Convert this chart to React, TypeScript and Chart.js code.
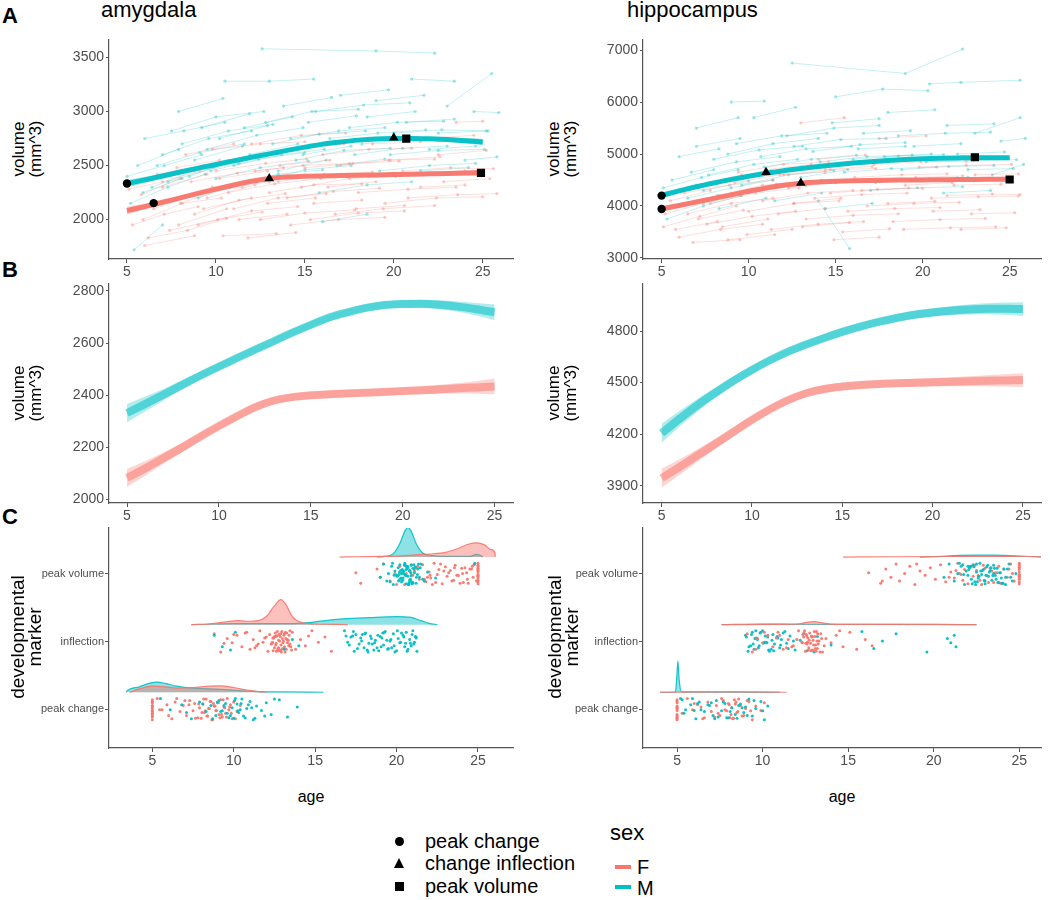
import React, { useEffect, useRef } from "react";
import { Chart, registerables } from "chart.js";
Chart.register(...registerables);

// ---------- colours ----------
const F_COLOR = "248,118,109";
const M_COLOR = "0,191,196";
const AXIS = "#555555";
const TICK = "#4d4d4d";
const FONT = "'Liberation Sans', Arial, Helvetica, sans-serif";

// ---------- tick labels ----------
const ageTicks = [5, 10, 15, 20, 25];
const amyTicksA = [2000, 2500, 3000, 3500];
const hipTicksA = [3000, 4000, 5000, 6000, 7000];
const amyTicksB = [2000, 2200, 2400, 2600, 2800];
const hipTicksB = [3900, 4200, 4500, 4800];
const markerCats = [1, 2, 3];
const markerLabels = ["peak change", "inflection", "peak volume"];

// ---------- fitted trajectories ----------
const fitAges = [5, 6, 7, 8, 9, 10, 11, 12, 13, 14, 15, 16, 17, 18, 19, 20, 21, 22, 23, 24, 25];
const amyFitF = [2083, 2120, 2160, 2200, 2242, 2282, 2320, 2355, 2380, 2393, 2400, 2404, 2407, 2410, 2413, 2416, 2419, 2423, 2427, 2430, 2434];
const amyFitM = [2332, 2367, 2403, 2440, 2476, 2510, 2543, 2576, 2608, 2640, 2670, 2698, 2718, 2735, 2746, 2750, 2751, 2747, 2740, 2730, 2718];
const hipFitF = [3945, 4010, 4078, 4146, 4215, 4283, 4345, 4398, 4438, 4463, 4477, 4486, 4492, 4496, 4499, 4502, 4505, 4508, 4511, 4513, 4515];
const hipFitM = [4206, 4290, 4370, 4443, 4512, 4574, 4630, 4680, 4722, 4760, 4795, 4826, 4853, 4876, 4895, 4908, 4918, 4925, 4930, 4930, 4928];
// bootstrap spread (half-width, mm^3)
const amySpread = [35, 28, 22, 18, 15, 14, 14, 14, 14, 14, 14, 14, 14, 14, 14, 14, 15, 17, 20, 24, 30];
const hipSpread = [55, 45, 36, 30, 26, 24, 22, 22, 22, 22, 22, 22, 22, 22, 23, 24, 26, 29, 32, 36, 40];

// ---------- developmental markers on fits ----------
const markerShapes = ["circle", "triangle", "rect"];
const amyMarkAgeF = [6.5, 13.0, 24.9];
const amyMarkVolF = [2152, 2380, 2432];
const amyMarkAgeM = [5.0, 20.0, 20.7];
const amyMarkVolM = [2334, 2757, 2748];
const hipMarkAgeF = [5.0, 13.0, 25.0];
const hipMarkVolF = [3942, 4443, 4510];
const hipMarkAgeM = [5.0, 11.0, 23.0];
const hipMarkVolM = [4200, 4649, 4938];

// ---------- individual trajectories [age, vol, age, vol, ...] ----------
const amyTrajF = [
  [5.3, 1950, 7.1, 2050, 9.0, 2120], [5.8, 2230, 8.0, 2380], [6.2, 1830, 8.4, 1900, 10.6, 2010],
  [6.5, 2100, 9.2, 2250, 11.5, 2300], [7.0, 2300, 9.5, 2420], [7.4, 1900, 10.1, 2000, 12.6, 2070],
  [8.0, 2150, 10.5, 2290, 13.0, 2350], [8.3, 2600, 11.0, 2700], [9.0, 1950, 12.0, 2080, 14.6, 2120],
  [9.5, 2200, 12.2, 2320], [10.0, 2450, 12.8, 2520, 15.1, 2560], [10.4, 1850, 13.4, 1870],
  [11.0, 2100, 13.5, 2200, 16.2, 2240], [11.6, 2350, 14.0, 2400], [12.0, 2700, 14.8, 2780, 17.3, 2800],
  [12.5, 2000, 15.0, 2060, 17.8, 2090], [13.0, 2250, 15.5, 2320, 18.2, 2330], [13.6, 2500, 16.4, 2550],
  [14.2, 1950, 16.9, 2000, 19.5, 2020], [14.8, 2300, 17.5, 2380, 20.1, 2400], [15.5, 2150, 18.2, 2180],
  [16.0, 2600, 18.6, 2650, 21.0, 2660], [16.7, 2050, 19.4, 2100, 22.3, 2130], [17.4, 2400, 20.0, 2430],
  [18.0, 2250, 20.8, 2280, 23.5, 2300], [18.8, 2700, 21.5, 2720], [19.5, 2150, 22.4, 2200, 25.0, 2210],
  [20.5, 2450, 23.2, 2480, 25.6, 2470], [21.5, 2300, 24.0, 2320], [22.5, 2600, 25.2, 2640],
  [6.0, 1760, 8.8, 1850], [7.8, 2480, 10.2, 2550], [23.5, 2900, 25.0, 2910], [11.8, 1830, 14.5, 1880],
  [8.8, 2050, 11.3, 2180, 13.9, 2240], [15.0, 2480, 17.7, 2520, 20.3, 2540],
  [5.1, 2280, 7.0, 2350, 9.1, 2450], [5.9, 2000, 8.1, 2150, 10.3, 2200], [6.7, 2420, 9.3, 2500],
  [7.2, 2180, 9.8, 2300, 12.3, 2360], [7.9, 1950, 10.6, 2100], [8.6, 2350, 11.2, 2430, 13.8, 2480],
  [9.3, 2100, 12.0, 2200], [9.8, 2650, 12.5, 2700, 15.0, 2720], [10.7, 2250, 13.3, 2330, 15.9, 2380],
  [11.3, 2000, 14.0, 2050], [12.2, 2450, 14.9, 2500, 17.5, 2520], [12.9, 2150, 15.6, 2200],
  [13.5, 2350, 16.1, 2420, 18.8, 2440], [14.5, 2650, 17.2, 2700], [15.3, 2000, 18.0, 2060, 20.6, 2080],
  [16.3, 2300, 19.0, 2350], [17.0, 2500, 19.7, 2550, 22.3, 2560], [17.9, 2100, 20.6, 2130],
  [18.6, 2400, 21.3, 2430, 24.0, 2450], [19.8, 2550, 22.6, 2580], [20.8, 2200, 23.6, 2230, 25.8, 2240],
  [21.8, 2750, 24.5, 2780], [22.8, 2350, 25.4, 2380], [10.2, 2380, 12.9, 2450], [14.0, 2200, 16.6, 2260, 19.2, 2290],
];
const amyTrajM = [
  [5.2, 2150, 7.3, 2300, 9.4, 2420], [5.6, 2500, 7.9, 2650], [6.0, 2750, 8.2, 2820, 10.5, 2900],
  [6.4, 2300, 8.8, 2450, 11.3, 2520], [7.0, 2600, 9.6, 2750, 12.0, 2820], [7.9, 3000, 10.4, 3120],
  [8.5, 2400, 11.0, 2550, 13.5, 2610], [9.0, 2200, 11.8, 2350], [9.5, 2650, 12.3, 2780, 14.9, 2850],
  [10.5, 3280, 13.0, 3280, 15.5, 3300], [11.0, 2500, 13.7, 2600, 16.1, 2650], [11.6, 2850, 14.3, 2950],
  [12.3, 2350, 15.0, 2460, 17.6, 2500], [12.6, 3580, 19.0, 3560, 22.3, 3540], [13.2, 2700, 15.8, 2790, 18.4, 2820],
  [13.8, 3050, 16.5, 3130], [14.5, 2550, 17.2, 2640, 19.8, 2660], [15.2, 2900, 17.9, 2960],
  [15.8, 2250, 18.5, 2320, 21.0, 2350], [16.4, 2750, 19.1, 2800, 21.8, 2830], [17.0, 3150, 19.7, 3200],
  [17.8, 2600, 20.5, 2660, 23.0, 2680], [18.5, 2950, 21.2, 3000], [19.2, 2450, 22.0, 2500, 24.6, 2520],
  [20.0, 2800, 22.7, 2830, 25.3, 2820], [21.0, 3300, 23.4, 3280], [22.0, 2650, 24.6, 2680],
  [23.0, 3050, 25.5, 3350], [24.0, 2550, 25.8, 2580], [5.4, 1720, 7.0, 1950], [16.0, 1980, 18.5, 2050],
  [7.5, 2820, 10.0, 2950, 12.7, 3000], [10.0, 2380, 12.5, 2480, 15.2, 2540],
  [5.0, 2400, 7.1, 2500, 9.2, 2600], [5.9, 2250, 8.1, 2380], [6.7, 2500, 9.1, 2620, 11.6, 2700],
  [7.3, 2350, 9.9, 2480], [8.1, 2700, 10.7, 2820, 13.2, 2880], [8.8, 2550, 11.5, 2680],
  [9.7, 2450, 12.4, 2560, 15.0, 2620], [10.2, 2750, 12.9, 2870], [10.8, 2300, 13.5, 2420, 16.0, 2460],
  [11.9, 2600, 14.6, 2700], [12.8, 2900, 15.4, 3000, 18.0, 3020], [13.5, 2450, 16.2, 2550],
  [14.2, 2750, 16.9, 2820, 19.5, 2850], [14.9, 2600, 17.6, 2680], [15.6, 3000, 18.3, 3060, 20.9, 3080],
  [16.8, 2500, 19.5, 2560], [17.5, 2850, 20.2, 2900, 22.8, 2910], [18.2, 2700, 20.9, 2740],
  [19.0, 3100, 21.7, 3150], [19.8, 2600, 22.5, 2640, 25.1, 2650], [20.7, 2900, 23.4, 2930],
  [21.5, 2450, 24.2, 2480], [22.5, 2800, 25.2, 2820], [24.5, 3000, 25.9, 2990], [9.2, 2850, 11.9, 2980],
];
const hipTrajF = [
  [5.1, 3600, 7.2, 3800, 9.3, 4000], [5.5, 4100, 7.8, 4300], [6.0, 3400, 8.4, 3550, 10.8, 3650],
  [6.5, 3850, 9.0, 4050, 11.4, 4150], [7.0, 4400, 9.6, 4600], [7.6, 3650, 10.2, 3800, 12.7, 3900],
  [8.2, 4200, 10.8, 4400, 13.3, 4480], [8.8, 3350, 11.5, 3450], [9.4, 4650, 12.0, 4800, 14.6, 4850],
  [10.0, 3900, 12.6, 4050, 15.2, 4100], [10.6, 4300, 13.3, 4450], [11.3, 3550, 14.0, 3650, 16.6, 3700],
  [12.0, 4600, 14.7, 4700, 17.3, 4720], [12.6, 4050, 15.3, 4150], [13.3, 3750, 16.0, 3820, 18.6, 3850],
  [14.0, 4900, 16.7, 4980], [14.7, 4250, 17.4, 4320, 20.0, 4340], [15.4, 3500, 18.1, 3560],
  [16.1, 4550, 18.8, 4600, 21.4, 4620], [16.8, 4000, 19.5, 4050, 22.1, 4070], [17.5, 5300, 20.2, 5350],
  [18.3, 3700, 21.0, 3740, 23.6, 3760], [19.0, 4400, 21.7, 4450], [19.8, 4750, 22.5, 4780, 25.1, 4800],
  [20.6, 3900, 23.3, 3930], [21.4, 4200, 24.0, 4230, 25.6, 4220], [22.2, 3550, 24.8, 3580],
  [23.0, 4600, 25.5, 4620], [6.8, 3300, 9.5, 3350], [13.0, 5600, 15.5, 5700],
  [9.0, 4250, 11.6, 4420, 14.2, 4500], [15.0, 4450, 17.6, 4500, 20.4, 4520],
  [5.2, 3850, 7.4, 4050, 9.5, 4200], [5.8, 3550, 8.2, 3700], [6.3, 4250, 8.9, 4400, 11.4, 4500],
  [7.1, 3750, 9.7, 3920], [7.8, 4050, 10.4, 4250, 12.9, 4350], [8.5, 3600, 11.1, 3750],
  [9.2, 4450, 11.8, 4600, 14.4, 4650], [9.9, 3450, 12.5, 3550], [10.8, 4100, 13.4, 4250, 16.0, 4300],
  [11.7, 3850, 14.4, 3950], [12.3, 4350, 15.0, 4450, 17.6, 4480], [13.1, 3600, 15.8, 3680],
  [13.8, 4150, 16.5, 4220, 19.1, 4250], [14.4, 4700, 17.1, 4760], [15.7, 3900, 18.4, 3950, 21.0, 3970],
  [16.5, 4300, 19.2, 4350], [17.2, 4800, 19.9, 4850, 22.5, 4860], [18.0, 4050, 20.7, 4090],
  [18.9, 3550, 21.6, 3580, 24.2, 3600], [19.6, 4550, 22.3, 4580], [20.5, 4150, 23.2, 4180, 25.5, 4190],
  [21.8, 4400, 24.5, 4420], [22.8, 3850, 25.3, 3870], [11.0, 4700, 13.6, 4800], [14.9, 3350, 17.5, 3400],
];
const hipTrajM = [
  [5.3, 3750, 7.4, 4000, 9.6, 4200], [5.6, 4500, 8.0, 4700], [6.0, 4950, 8.3, 5100],
  [6.5, 4150, 9.0, 4350, 11.4, 4500], [7.0, 5500, 9.4, 5700], [7.7, 4600, 10.3, 4800, 12.8, 4900],
  [8.3, 3950, 11.0, 4150], [8.8, 5000, 11.4, 5200, 14.0, 5300], [9.0, 6000, 10.9, 6020],
  [9.6, 4400, 12.3, 4600, 14.9, 4680], [10.3, 5700, 12.7, 5900], [10.9, 4750, 13.6, 4900, 16.2, 4980],
  [11.5, 4100, 14.2, 4250], [12.2, 5350, 14.9, 5500, 17.5, 5550], [12.5, 6750, 19.0, 6550, 22.3, 7020],
  [13.0, 4550, 15.7, 4700], [13.7, 5050, 16.4, 5180, 19.0, 5220], [14.4, 3950, 17.1, 4050],
  [15.0, 6100, 17.7, 6250, 20.3, 6220], [15.2, 4800, 17.9, 4900], [14.0, 4100, 15.8, 3180],
  [16.6, 5400, 19.3, 5450], [17.3, 4450, 20.0, 4520, 22.6, 4550], [18.0, 5800, 20.7, 5850],
  [18.8, 4700, 21.5, 4760, 24.1, 4780], [19.5, 5150, 22.2, 5200], [20.4, 6350, 22.2, 6380, 25.6, 6420],
  [21.2, 4250, 23.9, 4300], [22.0, 5000, 24.7, 5040], [23.0, 5400, 25.6, 5700], [24.0, 4600, 25.8, 4800],
  [6.2, 4300, 8.7, 4480, 11.2, 4620], [16.0, 4900, 18.6, 4960, 21.2, 4990],
  [5.1, 4350, 7.3, 4550, 9.4, 4700], [5.9, 4000, 8.3, 4200], [6.7, 4650, 9.3, 4850, 11.8, 4950],
  [7.4, 4300, 10.0, 4480], [8.0, 4900, 10.6, 5080, 13.1, 5150], [8.7, 4500, 11.3, 4680],
  [9.3, 5200, 11.9, 5350, 14.5, 5400], [10.0, 4250, 12.6, 4400], [10.7, 4950, 13.3, 5100, 15.9, 5150],
  [11.8, 4650, 14.5, 4780], [12.6, 5150, 15.3, 5280, 17.9, 5300], [13.3, 4400, 16.0, 4500],
  [14.1, 4850, 16.8, 4950, 19.4, 4980], [14.8, 5600, 17.5, 5680], [15.5, 4650, 18.2, 4720, 20.8, 4750],
  [16.3, 5100, 19.0, 5150], [17.0, 4300, 19.7, 4350, 22.3, 4370], [17.8, 4950, 20.5, 5000],
  [18.6, 5350, 21.3, 5400, 23.9, 5420], [19.3, 4500, 22.0, 4540], [20.2, 4850, 22.9, 4880, 25.4, 4890],
  [21.4, 5550, 24.1, 5580], [22.6, 4700, 25.2, 4720], [24.5, 5250, 25.9, 5300], [7.0, 5150, 9.5, 5300],
];

// ---------- raincloud: estimated marker ages ----------
const amyPeakVolF = [17.5, 17.8, 18.8, 19.0, 19.2, 19.6, 19.9, 20.2, 20.5, 20.8, 21.0, 21.2, 21.4, 21.6, 21.8, 22.0, 22.1, 22.3, 22.5, 22.6, 22.8, 23.0, 23.1, 23.3, 23.5, 23.6, 23.8, 24.0, 24.1, 24.3, 24.4, 24.6, 24.7, 24.8, 24.9, 20.6, 21.3, 22.2, 22.9, 23.7, 24.2, 21.7, 20.9, 25, 25, 25, 25, 25, 25, 25, 25, 25, 25, 25, 25, 25, 25,
  22.4, 23.2, 23.9, 24.5, 21.9, 22.7, 23.4, 24.05, 24.65, 20.0, 21.1, 22.05, 23.55, 24.35, 24.75];
const amyPeakVolM = [19.0, 19.2, 19.4, 19.5, 19.7, 19.8, 19.9, 20.0, 20.1, 20.2, 20.2, 20.3, 20.4, 20.4, 20.5, 20.5, 20.6, 20.6, 20.7, 20.7, 20.8, 20.8, 20.9, 20.9, 21.0, 21.0, 21.1, 21.2, 21.3, 21.4, 21.5, 21.7, 20.3, 20.6, 20.75, 20.45, 20.55, 20.65, 20.85, 21.05, 19.6, 21.9, 22.4, 24.8, 20.15, 20.35, 20.95, 21.15,
  20.05, 20.25, 20.38, 20.48, 20.58, 20.68, 20.78, 20.88, 20.98, 21.08, 21.22, 21.35, 20.12, 20.42, 20.62, 20.72, 20.82, 19.85, 21.45, 21.6, 20.52, 20.92, 20.18, 20.28, 19.75, 21.28];
const amyInflF = [8.8, 9.2, 9.6, 9.9, 10.2, 10.5, 10.8, 11.0, 11.2, 11.4, 11.6, 11.8, 12.0, 12.1, 12.2, 12.3, 12.4, 12.5, 12.55, 12.6, 12.65, 12.7, 12.75, 12.8, 12.85, 12.9, 12.95, 13.0, 13.05, 13.1, 13.15, 13.2, 13.3, 13.4, 13.5, 13.6, 13.8, 14.1, 14.4, 14.8, 15.2, 15.6, 16.0, 10.0, 11.5, 12.45, 12.75, 13.25, 12.35, 12.6, 12.9, 13.35,
  12.42, 12.52, 12.58, 12.68, 12.72, 12.82, 12.88, 12.92, 12.98, 13.02, 13.08, 13.12, 13.18, 13.22, 13.28, 13.38, 13.45, 12.38, 12.48, 12.62, 12.78, 13.45, 11.9, 11.3, 10.7, 9.4, 14.6, 13.55];
const amyInflM = [8.8, 9.3, 10.1, 13.1, 13.6, 14.0, 16.8, 17.0, 17.2, 17.4, 17.5, 17.7, 17.8, 18.0, 18.1, 18.3, 18.4, 18.6, 18.7, 18.9, 19.0, 19.2, 19.3, 19.5, 19.6, 19.8, 19.9, 20.1, 20.2, 20.4, 20.5, 20.6, 20.7, 20.8, 20.9, 21.0, 21.1, 21.2, 21.25, 17.9, 18.5, 19.1, 19.7, 20.3, 20.85, 17.3, 18.2, 19.4, 20.0, 21.15,
  17.1, 17.35, 17.6, 17.85, 18.05, 18.25, 18.45, 18.65, 18.85, 19.05, 19.25, 19.45, 19.65, 19.85, 20.05, 20.25, 20.45, 20.65, 20.95, 21.05, 21.2, 18.8, 19.15, 20.55, 16.9, 9.8];
const amyPeakChgF = [5, 5, 5, 5, 5, 5, 5, 5, 5, 5, 5, 5, 5.3, 5.6, 5.9, 6.2, 6.4, 6.7, 6.9, 7.1, 7.3, 7.5, 7.6, 7.8, 7.9, 8.0, 8.1, 8.2, 8.3, 8.4, 8.5, 8.6, 8.7, 8.8, 8.9, 9.0, 9.1, 9.2, 9.3, 9.4, 9.5, 9.6, 9.7, 9.8, 9.9, 10.0, 10.2, 10.4, 6.0, 7.0, 8.25, 8.75, 9.15, 9.45,
  7.65, 7.85, 8.05, 8.15, 8.35, 8.45, 8.55, 8.65, 8.85, 8.95, 9.05, 9.25, 9.35, 9.55, 9.75, 9.85, 6.5, 5.45, 7.25, 10.1, 5, 5, 5];
const amyPeakChgM = [5.5, 6.1, 6.8, 7.4, 7.9, 8.3, 8.6, 8.9, 9.1, 9.3, 9.5, 9.7, 9.9, 10.0, 10.2, 10.3, 10.5, 10.6, 10.8, 11.0, 11.2, 11.4, 11.7, 12.0, 12.3, 12.8, 13.3, 13.9, 9.6, 10.1, 10.4, 10.9,
  8.7, 9.0, 9.2, 9.4, 9.8, 10.05, 10.25, 10.45, 10.7, 11.1, 11.3, 8.1, 7.1, 12.5, 11.9];
const hipPeakVolF = [16.2, 16.9, 17.2, 17.5, 17.8, 18.0, 18.3, 18.6, 18.9, 19.2, 19.5, 19.8, 20.1, 20.4, 20.7, 21.0, 21.2, 21.4, 21.6, 21.8, 22.0, 22.1, 22.3, 22.5, 22.7, 22.9, 23.1, 23.3, 23.5, 23.7, 23.9, 24.1, 24.3, 24.5, 24.7, 21.5, 22.2, 22.8, 23.4, 25, 25, 25, 25, 25, 25, 25, 25, 25, 25, 25, 25, 25,
  21.3, 21.7, 22.4, 22.6, 23.0, 23.2, 23.6, 24.0, 24.4, 20.9, 19.0, 17.0, 24.6, 23.8];
const hipPeakVolM = [20.6, 20.9, 21.2, 21.4, 21.6, 21.8, 21.9, 22.0, 22.1, 22.2, 22.3, 22.4, 22.5, 22.6, 22.7, 22.8, 22.9, 23.0, 23.1, 23.2, 23.3, 23.4, 23.5, 23.6, 23.7, 23.8, 23.9, 24.0, 24.1, 24.2, 24.4, 24.6, 24.8, 22.15, 22.45, 22.75, 23.05, 23.35, 23.65, 21.7, 22.55, 23.25, 23.95,
  21.5, 21.75, 22.05, 22.25, 22.35, 22.65, 22.85, 22.95, 23.15, 23.45, 23.55, 23.75, 23.85, 24.05, 24.3, 24.5, 22.5, 23.0, 23.5, 22.0, 24.2];
const hipInflF = [9.1, 9.4, 9.7, 10.0, 10.3, 10.6, 10.9, 11.2, 11.5, 11.8, 12.1, 12.3, 12.4, 12.5, 12.55, 12.6, 12.65, 12.7, 12.75, 12.8, 12.85, 12.9, 12.95, 13.0, 13.05, 13.1, 13.15, 13.2, 13.3, 13.4, 13.5, 13.7, 14.0, 14.3, 14.7, 15.1, 15.5, 16.0, 16.4, 12.45, 12.62, 12.88, 13.12, 12.35, 13.25, 10.8, 11.4,
  12.42, 12.52, 12.58, 12.68, 12.72, 12.82, 12.92, 12.98, 13.02, 13.08, 13.18, 13.22, 13.35, 13.45, 12.32, 11.0, 11.7, 10.1, 9.6, 12.0, 13.6, 14.5];
const hipInflM = [9.0, 9.2, 9.4, 9.5, 9.7, 9.8, 10.0, 10.1, 10.3, 10.4, 10.6, 10.7, 10.9, 11.0, 11.2, 11.4, 11.6, 11.9, 12.2, 12.6, 13.2, 14.0, 15.8, 16.5, 17.0, 17.8, 19.6, 20.8, 21.0, 21.2, 21.3, 9.9, 10.5, 11.1, 9.3, 9.6, 10.2,
  9.05, 9.15, 9.35, 9.45, 9.65, 9.75, 9.85, 10.05, 10.15, 10.35, 10.55, 10.65, 10.85, 11.05, 11.3, 11.5, 11.8, 12.4, 13.0, 9.55, 10.25];
const hipPeakChgF = [5, 5, 5, 5, 5, 5, 5, 5, 5, 5, 5, 5.3, 5.6, 5.9, 6.2, 6.5, 6.8, 7.0, 7.3, 7.5, 7.7, 7.9, 8.0, 8.1, 8.2, 8.3, 8.4, 8.5, 8.6, 8.8, 9.0, 9.2, 9.4, 9.6, 9.9, 10.1, 8.15, 8.35, 7.2, 6.4,
  7.4, 7.6, 7.8, 8.05, 8.25, 8.45, 8.55, 8.7, 8.9, 9.1, 9.3, 6.0, 6.6, 5, 5];
const hipPeakChgM = [5.2, 5.5, 5.8, 6.1, 6.3, 6.6, 6.9, 7.1, 7.3, 7.6, 7.8, 8.0, 8.2, 8.5, 8.7, 8.9, 9.2, 9.4, 9.6, 9.9, 10.1, 10.3, 6.0, 7.0, 8.4, 5.3, 7.4, 9.0,
  5.4, 5.9, 6.4, 6.8, 7.2, 7.7, 8.1, 8.6, 9.1, 9.5, 10.0, 6.2, 7.9, 8.8];

// ---------- raincloud: densities [age, height above baseline] ----------
const amyDensPeakVolF = [[16.5, 0], [17.5, 0.005], [19, 0.01], [20, 0.015], [21, 0.03], [22, 0.045], [23, 0.07], [23.8, 0.13], [24.4, 0.19], [24.9, 0.21], [25.4, 0.18], [25.8, 0.11], [26.05, 0.06], [26.06, 0]];
const amyDensPeakVolM = [[18.8, 0], [19.3, 0.01], [19.8, 0.05], [20.2, 0.2], [20.5, 0.38], [20.7, 0.44], [20.9, 0.38], [21.2, 0.2], [21.6, 0.06], [22.2, 0.02], [23, 0.01], [24.5, 0.01], [24.9, 0.04], [25.1, 0.03], [25.3, 0]];
const amyDensInflF = [[7.4, 0], [8.5, 0.01], [9.5, 0.04], [10.2, 0.06], [10.8, 0.05], [11.5, 0.06], [12.0, 0.12], [12.5, 0.28], [12.9, 0.37], [13.2, 0.3], [13.6, 0.12], [14.2, 0.03], [15, 0.01], [16, 0.005], [17, 0]];
const amyDensInflM = [[7.4, 0], [8.5, 0.01], [10, 0.015], [12, 0.015], [14, 0.02], [15, 0.04], [16, 0.07], [17, 0.09], [18, 0.1], [19, 0.11], [20, 0.12], [20.8, 0.11], [21.5, 0.06], [22, 0.02], [22.5, 0]];
const amyDensPeakChgF = [[3.6, 0], [4.2, 0.05], [5, 0.09], [5.8, 0.08], [6.5, 0.06], [7.5, 0.07], [8.5, 0.09], [9.2, 0.095], [10, 0.07], [10.8, 0.03], [11.5, 0.01], [12, 0]];
const amyDensPeakChgM = [[3.4, 0], [3.45, 0.02], [4.2, 0.08], [4.8, 0.13], [5.3, 0.15], [5.8, 0.13], [6.5, 0.09], [7.5, 0.06], [8.5, 0.05], [9.5, 0.04], [10.5, 0.02], [11.5, 0.01], [13, 0.005], [15.5, 0]];
const hipDensPeakVolF = [[14.7, 0], [18, 0.005], [21, 0.008], [24, 0.01], [25, 0.012], [26.6, 0]];
const hipDensPeakVolM = [[19.2, 0], [20.5, 0.01], [21.5, 0.025], [22.5, 0.03], [23.5, 0.03], [24.5, 0.02], [25.5, 0.008], [26.6, 0]];
const hipDensInflF = [[7.6, 0], [11, 0.005], [12, 0.01], [12.6, 0.035], [13, 0.045], [13.4, 0.03], [14, 0.008], [16, 0.003], [22.5, 0]];
const hipDensInflM = [[7.6, 0], [10, 0.008], [12, 0.006], [16, 0.004], [20, 0.003], [22.5, 0]];
const hipDensPeakChgF = [[4.0, 0], [8, 0.005], [11.4, 0]];
const hipDensPeakChgM = [[4.0, 0], [4.9, 0.003], [4.98, 0.2], [5.05, 0.46], [5.12, 0.2], [5.25, 0.01], [6, 0.004], [11, 0]];

// jitter offsets used to spread raincloud points vertically (layout only)
const JITTER = [0.12, -0.85, 0.47, -0.31, 0.93, -0.64, 0.05, 0.71, -0.97, 0.28, -0.12, 0.58, -0.49, 0.86, -0.72, 0.19, -0.38, 0.99, -0.06, 0.41, -0.9, 0.66, -0.22, 0.33, -0.58, 0.8, -0.15, 0.52, -0.79];

// ---------- helpers ----------
const rgba = (c: string, a: number) => `rgba(${c},${a})`;

function xScale(min: number, max: number, xH: number) {
  return {
    type: "linear",
    min,
    max,
    afterBuildTicks: (s: any) => { s.ticks = ageTicks.map((v) => ({ value: v })); },
    afterFit: (s: any) => { s.height = xH; },
    grid: { display: true, drawOnChartArea: false, drawTicks: true, tickLength: 4, color: AXIS, lineWidth: 1 },
    border: { display: true, color: AXIS, width: 1.2 },
    ticks: { color: TICK, font: { size: 14, family: FONT }, padding: 1, maxRotation: 0, autoSkip: false, callback: (v: any) => String(v) },
  };
}
function yScale(min: number, max: number, ticks: number[], yW: number, labels?: string[]) {
  return {
    type: "linear",
    min,
    max,
    afterBuildTicks: (s: any) => { s.ticks = ticks.map((v) => ({ value: v })); },
    afterFit: (s: any) => { s.width = yW; },
    grid: { display: true, drawOnChartArea: false, drawTicks: true, tickLength: labels ? 4 : 3, color: AXIS, lineWidth: 1 },
    border: { display: true, color: AXIS, width: 1.2 },
    ticks: {
      color: TICK,
      font: { size: labels ? 11 : 14, family: FONT },
      padding: labels ? 1 : 2,
      autoSkip: false,
      callback: (v: any) => (labels ? labels[ticks.indexOf(v)] : String(v)),
    },
  };
}

function trajSets(trajs: number[][], color: string) {
  return trajs.map((t) => {
    const pts: any[] = [];
    for (let i = 0; i < t.length; i += 2) pts.push({ x: t[i], y: t[i + 1] });
    return {
      data: pts, borderColor: rgba(color, 0.26), borderWidth: 0.9, pointRadius: 1.6,
      pointBackgroundColor: rgba(color, 0.38), pointBorderWidth: 0, order: 10, tension: 0,
    };
  });
}
function fitSets(fit: number[], spread: number[], color: string, lineW: number, bandA: number, lineA: number) {
  const lo = fitAges.map((a, i) => ({ x: a, y: fit[i] - spread[i] }));
  const hi = fitAges.map((a, i) => ({ x: a, y: fit[i] + spread[i] }));
  const mid = fitAges.map((a, i) => ({ x: a, y: fit[i] }));
  return [
    { data: lo, borderWidth: 0, borderColor: "transparent", pointRadius: 0, fill: false, order: 3, cubicInterpolationMode: "monotone" },
    { data: hi, borderWidth: 0, borderColor: "transparent", pointRadius: 0, fill: "-1", backgroundColor: rgba(color, bandA), order: 3, cubicInterpolationMode: "monotone" },
    { data: mid, borderColor: rgba(color, lineA), borderWidth: lineW, pointRadius: 0, fill: false, order: 2, cubicInterpolationMode: "monotone", borderCapStyle: "butt" },
  ];
}
function markerSet(ages: number[], vols: number[]) {
  return {
    data: ages.map((a, i) => ({ x: a, y: vols[i] })),
    showLine: false,
    pointStyle: markerShapes,
    pointRadius: [4.2, 5.6, 5.8],
    pointBackgroundColor: "#000",
    pointBorderColor: "#000",
    pointBorderWidth: 0,
    order: 0,
  };
}
function densSet(pairs: number[][], base: number, color: string) {
  return {
    data: pairs.map(([x, h]) => ({ x, y: base + h })),
    borderColor: rgba(color, 0.9), borderWidth: 1.2, backgroundColor: rgba(color, 0.45),
    fill: { value: base }, pointRadius: 0, cubicInterpolationMode: "monotone", order: 5,
  };
}
function rainSet(ages: number[], cat: number, color: string, shift: number) {
  return {
    data: ages.map((a, i) => ({ x: a, y: cat + JITTER[(i + shift) % JITTER.length] * 0.16 })),
    showLine: false, pointRadius: 1.5, pointBackgroundColor: rgba(color, 0.95), pointBorderWidth: 0, order: 6,
  };
}

const PAD_T = 10, PAD_R = 12, X_H = 34;

function makeConfig(datasets: any[], scales: any) {
  return {
    type: "line",
    data: { datasets },
    options: {
      animation: false, responsive: false, devicePixelRatio: 1,
      layout: { padding: { top: PAD_T, right: PAD_R, left: 0, bottom: 0 } },
      plugins: { legend: { display: false }, tooltip: { enabled: false } },
      events: [],
      scales,
    },
  };
}

type Rect = { L: number; T: number; R: number; B: number };

function ChartPanel({ rect, yW, build }: { rect: Rect; yW: number; build: () => any }) {
  const ref = useRef<HTMLCanvasElement>(null);
  const w = rect.R - rect.L + yW + PAD_R;
  const h = rect.B - rect.T + PAD_T + X_H;
  useEffect(() => {
    const chart = new Chart(ref.current as HTMLCanvasElement, build());
    return () => chart.destroy();
  }, []);
  return (
    <canvas ref={ref} width={w} height={h}
      style={{ position: "absolute", left: rect.L - yW, top: rect.T - PAD_T, width: w, height: h }} />
  );
}

// ---------- panel builders ----------
const buildAL = () => makeConfig(
  [markerSet(amyMarkAgeF, amyMarkVolF), markerSet(amyMarkAgeM, amyMarkVolM),
   ...fitSets(amyFitF, amySpread, F_COLOR, 5, 0.35, 0.95), ...fitSets(amyFitM, amySpread, M_COLOR, 5, 0.35, 0.95),
   ...trajSets(amyTrajF, F_COLOR), ...trajSets(amyTrajM, M_COLOR)],
  { x: xScale(3.99, 26.7, X_H), y: yScale(1635, 3667, amyTicksA, 60) });
const buildAR = () => makeConfig(
  [markerSet(hipMarkAgeF, hipMarkVolF), markerSet(hipMarkAgeM, hipMarkVolM),
   ...fitSets(hipFitF, hipSpread, F_COLOR, 5, 0.35, 0.95), ...fitSets(hipFitM, hipSpread, M_COLOR, 5, 0.35, 0.95),
   ...trajSets(hipTrajF, F_COLOR), ...trajSets(hipTrajM, M_COLOR)],
  { x: xScale(3.93, 26.8, X_H), y: yScale(2980, 7206, hipTicksA, 60) });
const buildBL = () => makeConfig(
  [...fitSets(amyFitF, amySpread, F_COLOR, 8, 0.3, 0.55), ...fitSets(amyFitM, amySpread, M_COLOR, 8, 0.3, 0.55)],
  { x: xScale(4.02, 26.0, X_H), y: yScale(1987, 2829, amyTicksB, 60) });
const buildBR = () => makeConfig(
  [...fitSets(hipFitF, hipSpread, F_COLOR, 8, 0.3, 0.55), ...fitSets(hipFitM, hipSpread, M_COLOR, 8, 0.3, 0.55)],
  { x: xScale(3.97, 26.0, X_H), y: yScale(3800, 5077, hipTicksB, 60) });
const buildCL = () => makeConfig(
  [densSet(amyDensPeakVolF, 3.25, F_COLOR), densSet(amyDensPeakVolM, 3.25, M_COLOR),
   densSet(amyDensInflF, 2.25, F_COLOR), densSet(amyDensInflM, 2.25, M_COLOR),
   densSet(amyDensPeakChgF, 1.25, F_COLOR), densSet(amyDensPeakChgM, 1.25, M_COLOR),
   rainSet(amyPeakVolM, 3, M_COLOR, 3), rainSet(amyPeakVolF, 3, F_COLOR, 0),
   rainSet(amyInflM, 2, M_COLOR, 11), rainSet(amyInflF, 2, F_COLOR, 7),
   rainSet(amyPeakChgM, 1, M_COLOR, 17), rainSet(amyPeakChgF, 1, F_COLOR, 5)],
  { x: xScale(2.34, 27.15, X_H), y: yScale(0.425, 3.68, markerCats, 100, markerLabels) });
const buildCR = () => makeConfig(
  [densSet(hipDensPeakVolF, 3.25, F_COLOR), densSet(hipDensPeakVolM, 3.25, M_COLOR),
   densSet(hipDensInflF, 2.25, F_COLOR), densSet(hipDensInflM, 2.25, M_COLOR),
   densSet(hipDensPeakChgF, 1.25, F_COLOR), densSet(hipDensPeakChgM, 1.25, M_COLOR),
   rainSet(hipPeakVolM, 3, M_COLOR, 3), rainSet(hipPeakVolF, 3, F_COLOR, 0),
   rainSet(hipInflF, 2, F_COLOR, 7), rainSet(hipInflM, 2, M_COLOR, 11),
   rainSet(hipPeakChgM, 1, M_COLOR, 17), rainSet(hipPeakChgF, 1, F_COLOR, 5)],
  { x: xScale(3.01, 26.27, X_H), y: yScale(0.425, 3.68, markerCats, 100, markerLabels) });

// ---------- text helpers ----------
const abs = (left: number, top: number, extra: any = {}) => ({ position: "absolute" as const, left, top, ...extra });

function VTitle({ cx, cy, lines, size, lh }: { cx: number; cy: number; lines: string[]; size: number; lh: number }) {
  const W = 160, H = lines.length * lh;
  return (
    <div style={abs(cx - W / 2, cy - H / 2, { width: W, height: H, transform: "rotate(-90deg)", textAlign: "center", fontSize: size, lineHeight: lh + "px", fontFamily: FONT, color: "#000", whiteSpace: "nowrap" })}>
      {lines.map((l, i) => <div key={i}>{l}</div>)}
    </div>
  );
}

export default function App() {
  const letter = { fontSize: 22, fontWeight: 700, lineHeight: "22px", fontFamily: FONT, color: "#000" };
  const title = { fontSize: 22, lineHeight: "22px", fontFamily: FONT, color: "#000" };
  const leg = { fontSize: 20, lineHeight: "22px", fontFamily: FONT, color: "#000", whiteSpace: "nowrap" as const };
  return (
    <div style={{ position: "absolute", left: 0, top: 0, width: 1050, height: 900, background: "#fff", overflow: "hidden" }}>
      <div style={abs(2, 5, letter)}>A</div>
      <div style={abs(2, 259, letter)}>B</div>
      <div style={abs(2, 506, letter)}>C</div>
      <div style={abs(101, -1, title)}>amygdala</div>
      <div style={abs(627, -1, title)}>hippocampus</div>

      <ChartPanel rect={{ L: 109, T: 39, R: 513, B: 259 }} yW={60} build={buildAL} />
      <ChartPanel rect={{ L: 643, T: 39, R: 1041, B: 259 }} yW={60} build={buildAR} />
      <ChartPanel rect={{ L: 109, T: 283, R: 513, B: 503 }} yW={60} build={buildBL} />
      <ChartPanel rect={{ L: 643, T: 283, R: 1041, B: 503 }} yW={60} build={buildBR} />
      <ChartPanel rect={{ L: 109, T: 528, R: 513, B: 748 }} yW={100} build={buildCL} />
      <ChartPanel rect={{ L: 643, T: 528, R: 1041, B: 748 }} yW={100} build={buildCR} />

      <VTitle cx={27} cy={149} lines={["volume", "(mm^3)"]} size={17} lh={17} />
      <VTitle cx={562} cy={149} lines={["volume", "(mm^3)"]} size={17} lh={17} />
      <VTitle cx={27} cy={393} lines={["volume", "(mm^3)"]} size={17} lh={17} />
      <VTitle cx={562} cy={393} lines={["volume", "(mm^3)"]} size={17} lh={17} />
      <VTitle cx={26} cy={637} lines={["developmental", "marker"]} size={19} lh={17} />
      <VTitle cx={563} cy={637} lines={["developmental", "marker"]} size={19} lh={17} />

      <div style={abs(311 - 40, 787, { width: 80, textAlign: "center", fontSize: 16, lineHeight: "20px", fontFamily: FONT })}>age</div>
      <div style={abs(842 - 40, 787, { width: 80, textAlign: "center", fontSize: 16, lineHeight: "20px", fontFamily: FONT })}>age</div>

      {/* shape legend */}
      <div style={abs(395, 837, { width: 9, height: 9, borderRadius: "50%", background: "#000" })} />
      <div style={abs(394, 858, { width: 0, height: 0, borderLeft: "5.5px solid transparent", borderRight: "5.5px solid transparent", borderBottom: "10px solid #000" })} />
      <div style={abs(395, 882, { width: 9, height: 9, background: "#000" })} />
      <div style={abs(425, 830, leg)}>peak change</div>
      <div style={abs(425, 852, leg)}>change inflection</div>
      <div style={abs(425, 875, leg)}>peak volume</div>

      {/* sex legend */}
      <div style={abs(610, 822, { ...leg, fontSize: 22 })}>sex</div>
      <div style={abs(615, 865, { width: 16, height: 4, background: "rgb(248,118,109)" })} />
      <div style={abs(615, 885, { width: 16, height: 4, background: "rgb(0,191,196)" })} />
      <div style={abs(637, 856, leg)}>F</div>
      <div style={abs(637, 877, leg)}>M</div>
    </div>
  );
}
